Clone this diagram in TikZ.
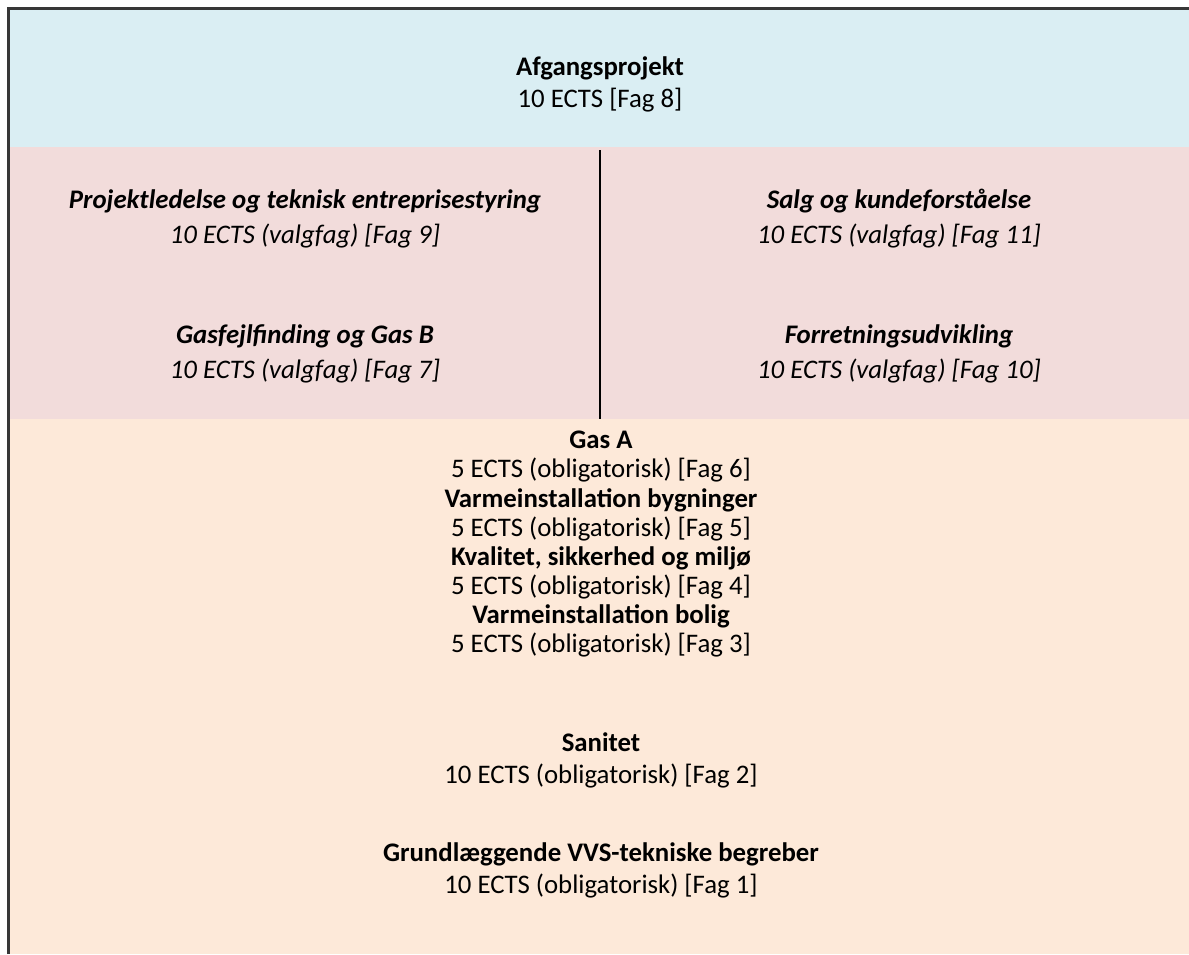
\documentclass[tikz,border=0pt]{standalone}
\usepackage{fontspec}
\setmainfont{Carlito}
\definecolor{topblue}{RGB}{218,238,243}
\definecolor{midpink}{RGB}{242,220,219}
\definecolor{lowpeach}{RGB}{253,233,217}
\definecolor{frame}{RGB}{55,55,55}
\begin{document}
\begin{tikzpicture}[x=1pt,y=-1pt,
  course/.style={align=center,inner sep=0pt,font=\fontsize{26.8}{32}\selectfont},
  blockcourse/.style={course,font=\fontsize{26.8}{29}\selectfont},
  elective/.style={course,font=\fontsize{26.8}{35}\selectfont\itshape}]
\useasboundingbox (0,0) rectangle (1189,954);
% bands
\fill[topblue] (8,8) rectangle (1189,147);
\fill[midpink] (8,147) rectangle (1189,419);
\fill[lowpeach] (8,419) rectangle (1189,954);
% frame
\draw[frame,line width=3pt] (8,954) -- (8,8) -- (1189,8);
% divider
\coordinate (divtop) at (600,150);
\coordinate (divbot) at (600,419);
\draw[black,line width=1.6pt] (divtop) -- (divbot);
% top
\node[course] (afg) at (600,84) {\textbf{Afgangsprojekt}\\10 ECTS [Fag 8]};
% electives
\node[elective] (pl) at (305,219) {\textbf{Projektledelse og teknisk entreprisestyring}\\10 ECTS (valgfag) [Fag 9]};
\node[elective] (gf) at (305,354) {\textbf{Gasfejlfinding og Gas B}\\10 ECTS (valgfag) [Fag 7]};
\node[elective] (salg) at (899,219) {\textbf{Salg og kundeforståelse}\\10 ECTS (valgfag) [Fag 11]};
\node[elective] (forr) at (899,354) {\textbf{Forretningsudvikling}\\10 ECTS (valgfag) [Fag 10]};
% mandatory
\node[blockcourse] (gasa) at (601,457) {\textbf{Gas A}\\5 ECTS (obligatorisk) [Fag 6]};
\node[blockcourse] (vb) at (601,515) {\textbf{Varmeinstallation bygninger}\\5 ECTS (obligatorisk) [Fag 5]};
\node[blockcourse] (ksm) at (601,573) {\textbf{Kvalitet, sikkerhed og miljø}\\5 ECTS (obligatorisk) [Fag 4]};
\node[blockcourse] (vbo) at (601,631) {\textbf{Varmeinstallation bolig}\\5 ECTS (obligatorisk) [Fag 3]};
\node[course] (san) at (601,760) {\textbf{Sanitet}\\10 ECTS (obligatorisk) [Fag 2]};
\node[course] (grund) at (601,870) {\textbf{Grundlæggende VVS-tekniske begreber}\\10 ECTS (obligatorisk) [Fag 1]};
\end{tikzpicture}
\end{document}
